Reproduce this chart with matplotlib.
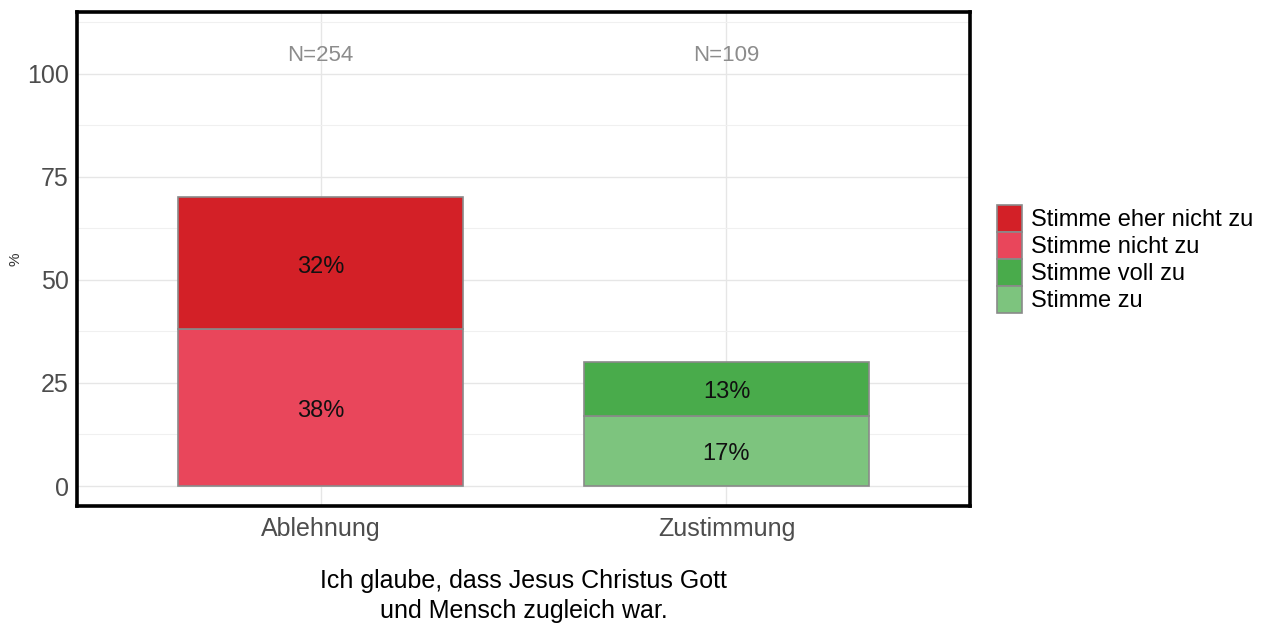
import matplotlib
matplotlib.use("Agg")
import matplotlib.pyplot as plt
from matplotlib.patches import Patch
from matplotlib import font_manager

# --- data ---
categories = ["Ablehnung", "Zustimmung"]
group_n = [254, 109]
series_names = ["Stimme eher nicht zu", "Stimme nicht zu", "Stimme voll zu", "Stimme zu"]
# stacked segments per category: (series, value) from bottom to top
ablehnung_stack = [("Stimme nicht zu", 38), ("Stimme eher nicht zu", 32)]
zustimmung_stack = [("Stimme zu", 17), ("Stimme voll zu", 13)]
series_colors = {
    "Stimme eher nicht zu": "#d32027",
    "Stimme nicht zu": "#e9465b",
    "Stimme voll zu": "#49ab4b",
    "Stimme zu": "#7dc47e",
}
y_ticks = [0, 25, 50, 75, 100]
title_lines = "Ich glaube, dass Jesus Christus Gott\nund Mensch zugleich war."

installed = {f.name for f in font_manager.fontManager.ttflist}
family = "Liberation Sans Narrow" if "Liberation Sans Narrow" in installed else "Liberation Sans"
plt.rcParams["font.family"] = [family, "DejaVu Sans"]

fig = plt.figure(figsize=(12.67, 6.30), dpi=100)
ax = fig.add_axes([77 / 1267, 1 - 506 / 630, (970 - 77) / 1267, (506 - 12) / 630])

stacks = [ablehnung_stack, zustimmung_stack]
x_pos = [1, 2]
for x, stack in zip(x_pos, stacks):
    bottom = 0
    for name, val in stack:
        ax.bar(x, val, bottom=bottom, width=0.7, color=series_colors[name],
               edgecolor="#8a8a8a", linewidth=1.2, zorder=3)
        ax.text(x, bottom + val / 2 - 0.8, f"{val}%", ha="center", va="center",
                fontsize=17, color="#111111", zorder=4)
        bottom += val

for x, n in zip(x_pos, group_n):
    ax.text(x, 104.5, f"N={n}", ha="center", va="center", fontsize=16,
            color="#8c8c8c", zorder=4)

ax.set_xlim(0.4, 2.6)
ax.set_ylim(-4.85, 115)
ax.set_xticks(x_pos)
ax.set_xticklabels(categories)
ax.set_yticks(y_ticks)
ax.set_yticks([12.5, 37.5, 62.5, 87.5, 112.5], minor=True)
ax.grid(True, which="major", color="#e6e6e6", linewidth=1.0, zorder=0)
ax.grid(True, which="minor", axis="y", color="#f0f0f0", linewidth=0.8, zorder=0)
ax.set_axisbelow(True)
ax.tick_params(axis="both", which="both", length=0, labelsize=18, labelcolor="#4d4d4d")
ax.tick_params(axis="x", pad=8)
ax.tick_params(axis="y", pad=6)
for spine in ax.spines.values():
    spine.set_linewidth(2.6)
    spine.set_color("black")

# y-axis title placed in figure pixels so it sits just inside the left edge
fig.text(15 / 1267, 1 - 259 / 630, "%", rotation=90, ha="center", va="center",
         fontsize=11, color="#333333")
ax.set_xlabel(title_lines, fontsize=18, color="black", labelpad=20, linespacing=1.3)

handles = [Patch(facecolor=series_colors[s], edgecolor="#8a8a8a", linewidth=1.2, label=s)
           for s in series_names]
leg = fig.legend(handles=handles, loc="center left", bbox_to_anchor=(997 / 1267, 1 - 259 / 630),
                 frameon=False, fontsize=17, handlelength=1.05, handleheight=1.35,
                 handletextpad=0.4, labelspacing=0.02, borderaxespad=0, borderpad=0)

fig.savefig("out.png", dpi=100)
